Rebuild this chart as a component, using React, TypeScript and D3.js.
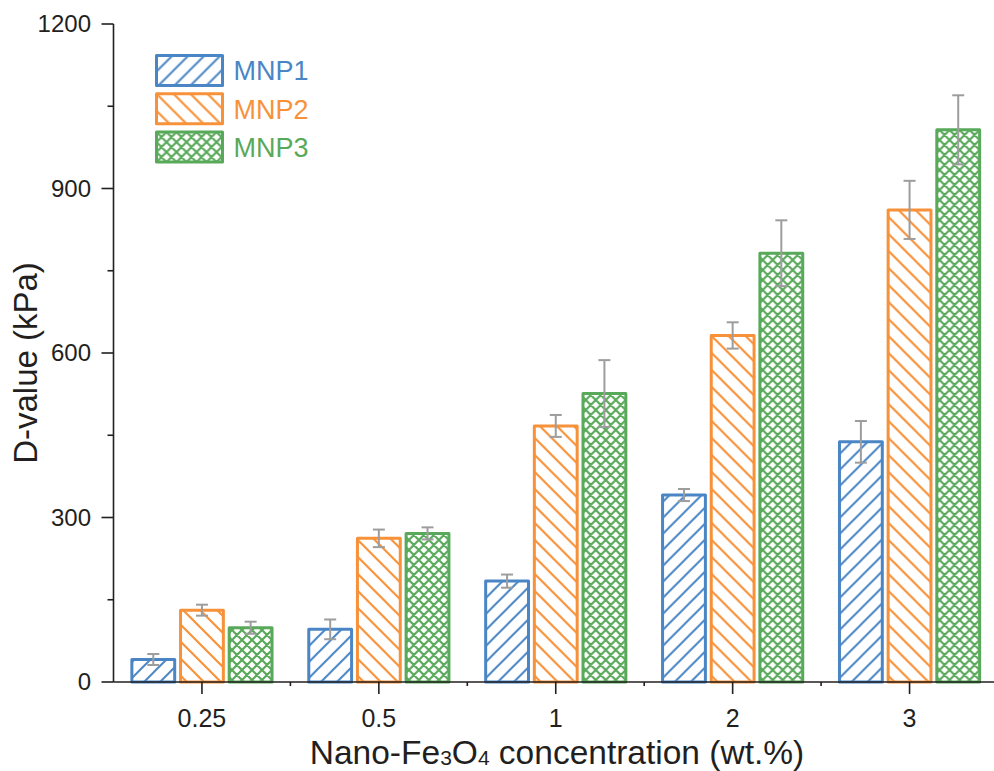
import React from "react";
import * as d3 from "d3";

const categories = ["0.25", "0.5", "1", "2", "3"];
const seriesNames = ["MNP1", "MNP2", "MNP3"];
const mnp1 = [41, 96, 184, 341, 438];
const mnp1Err = [10, 18, 12, 11, 38];
const mnp2 = [131, 262, 467, 632, 861];
const mnp2Err = [10, 16, 20, 24, 53];
const mnp3 = [99, 271, 526, 782, 1007];
const mnp3Err = [11, 11, 61, 60, 63];
const yTicks = [0, 300, 600, 900, 1200];
const yMinorTicks = [150, 450, 750, 1050];

const colors = ["#4a86c5", "#f7923a", "#59a95a"];
const values = [mnp1, mnp2, mnp3];
const errors = [mnp1Err, mnp2Err, mnp3Err];
const font = "'Liberation Sans', Arial, Helvetica, sans-serif";

export default function App() {
  const W = 994, H = 771;
  const left = 113.5, bottom = 682, top = 24;
  const x = d3.scaleBand<string>().domain(categories).range([left, left + 5 * 176.9]).padding(0);
  const x1 = d3.scaleBand<string>().domain(seriesNames).range([-73, 73]).paddingInner(0.12).paddingOuter(0.06);
  const y = d3.scaleLinear().domain([0, 1200]).range([bottom, top]);
  const bw = x1.bandwidth();
  const axisColor = "#231f20";

  return (
    <svg width={W} height={H} style={{ position: "absolute", left: 0, top: 0, background: "#fff" }} fontFamily={font}>
      <defs>
        <pattern id="p0" patternUnits="userSpaceOnUse" width="16" height="16">
          <path d="M-2,18 L18,-2 M-2,2 L2,-2 M14,18 L18,14" stroke={colors[0]} strokeWidth="2" />
        </pattern>
        <pattern id="p1" patternUnits="userSpaceOnUse" width="17" height="17">
          <path d="M-2,-2 L19,19 M15,-2 L19,2 M-2,15 L2,19" stroke={colors[1]} strokeWidth="2.2" />
        </pattern>
        <pattern id="p2" patternUnits="userSpaceOnUse" width="10" height="10">
          <path d="M-1,11 L11,-1 M-1,1 L1,-1 M9,11 L11,9 M-1,-1 L11,11 M9,-1 L11,1 M-1,9 L1,11" stroke={colors[2]} strokeWidth="2.2" />
        </pattern>
      </defs>

      {/* bars */}
      {categories.map((c, i) => (
        <g key={c} transform={`translate(${x(c)! + x.bandwidth() / 2},0)`}>
          {seriesNames.map((s, k) => (
            <rect
              key={s}
              x={x1(s)!}
              y={y(values[k][i])}
              width={bw}
              height={bottom - y(values[k][i])}
              fill={`url(#p${k})`}
              stroke={colors[k]}
              strokeWidth={3}
              strokeLinejoin="round"
            />
          ))}
          {seriesNames.map((s, k) => {
            const cx = x1(s)! + bw / 2;
            const v = values[k][i], e = errors[k][i];
            return (
              <g key={s + "e"} stroke="#9d9d9d" strokeWidth={2}>
                <line x1={cx} x2={cx} y1={y(v + e)} y2={y(v - e)} />
                <line x1={cx - 6} x2={cx + 6} y1={y(v + e)} y2={y(v + e)} />
                <line x1={cx - 6} x2={cx + 6} y1={y(v - e)} y2={y(v - e)} />
              </g>
            );
          })}
        </g>
      ))}

      {/* axes */}
      <line x1={left} x2={left} y1={top} y2={bottom} stroke={axisColor} strokeWidth={1.6} />
      <line x1={left} x2={W} y1={bottom} y2={bottom} stroke={axisColor} strokeWidth={1.6} />
      {yTicks.map((t) => (
        <g key={t}>
          <line x1={left - 12} x2={left} y1={y(t)} y2={y(t)} stroke={axisColor} strokeWidth={1.6} />
          <text x={91} y={y(t)} dy="0.35em" textAnchor="end" fontSize={24} fill="#231f20">{t}</text>
        </g>
      ))}
      {yMinorTicks.map((t) => (
        <line key={t} x1={left - 6} x2={left} y1={y(t)} y2={y(t)} stroke={axisColor} strokeWidth={1.6} />
      ))}
      {categories.map((c) => (
        <g key={c}>
          <line x1={x(c)! + x.bandwidth() / 2} x2={x(c)! + x.bandwidth() / 2} y1={bottom} y2={bottom + 12} stroke={axisColor} strokeWidth={1.6} />
          <text x={x(c)! + x.bandwidth() / 2} y={727} textAnchor="middle" fontSize={25} fill="#231f20">{c}</text>
        </g>
      ))}
      {categories.slice(1).map((c) => (
        <line key={c + "m"} x1={x(c)!} x2={x(c)!} y1={bottom} y2={bottom + 4} stroke={axisColor} strokeWidth={1.6} />
      ))}

      {/* axis titles */}
      <text transform={`translate(37,${(top + bottom) / 2 + 10}) rotate(-90)`} textAnchor="middle" fontSize={33} fill="#231f20">D-value (kPa)</text>
      <text x={557} y={764} textAnchor="middle" fontSize={33.5} fill="#231f20">
        Nano-Fe<tspan fontSize={21} dy={1}>3</tspan><tspan dy={-1}>O</tspan><tspan fontSize={21} dy={1}>4</tspan><tspan dy={-1}> concentration (wt.%)</tspan>
      </text>

      {/* legend */}
      {seriesNames.map((s, k) => (
        <g key={s} transform={`translate(156.5,${55.5 + k * 38.3})`}>
          <rect x={0} y={0} width={66} height={30} fill={`url(#p${k})`} stroke={colors[k]} strokeWidth={3} strokeLinejoin="round" />
          <text x={77} y={15} dy="0.36em" fontSize={27} fill={colors[k]}>{s}</text>
        </g>
      ))}
    </svg>
  );
}
